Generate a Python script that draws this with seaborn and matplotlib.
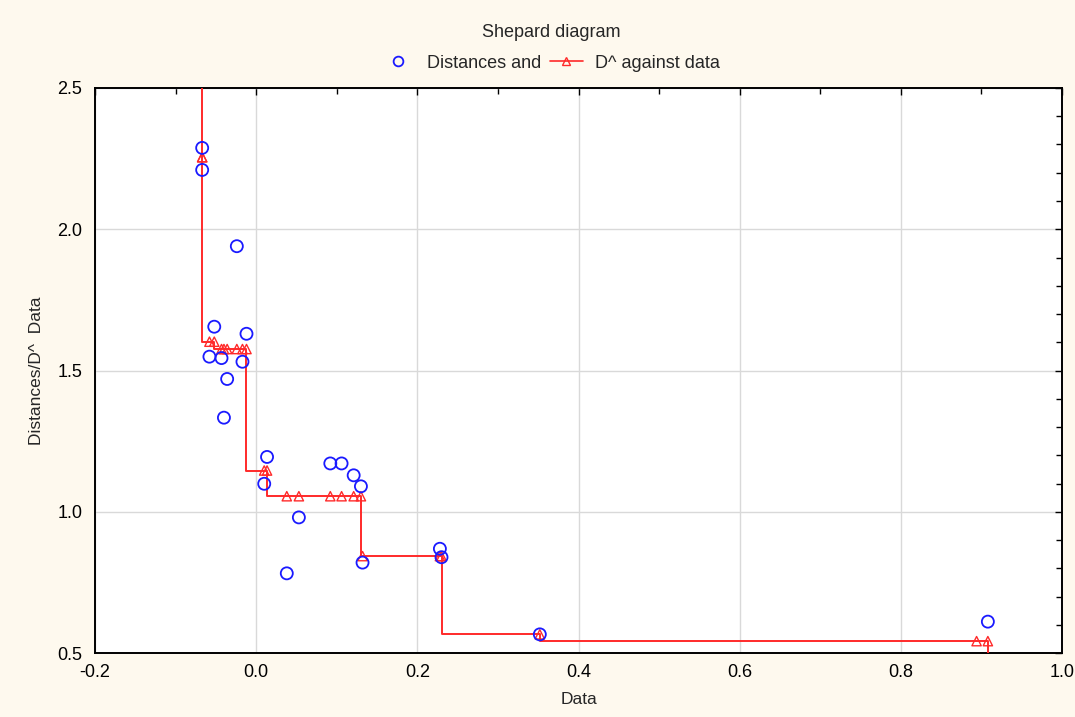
import numpy as np
import pandas as pd
import matplotlib
matplotlib.use("Agg")
import matplotlib.pyplot as plt
from matplotlib.lines import Line2D
from matplotlib.ticker import MultipleLocator
import seaborn as sns

# Shepard diagram values
data_x = [-0.067, -0.067, -0.024, -0.052, -0.012, -0.058, -0.043, -0.017,
          -0.036, -0.040, 0.0135, 0.010, 0.092, 0.106, 0.121, 0.130,
          0.053, 0.038, 0.132, 0.228, 0.230, 0.352, 0.908, 0.894]
distances = [2.288, 2.210, 1.940, 1.655, 1.630, 1.549, 1.544, 1.531,
             1.470, 1.333, 1.194, 1.099, 1.171, 1.171, 1.129, 1.090,
             0.980, 0.782, 0.820, 0.869, 0.839, 0.566, 0.611, 0.473]
d_hat = [2.255, 2.255, 1.576, 1.602, 1.576, 1.602, 1.576, 1.576,
         1.576, 1.576, 1.146, 1.146, 1.055, 1.055, 1.055, 1.055,
         1.055, 1.055, 0.843, 0.843, 0.843, 0.566, 0.542, 0.542]
# step line runs off the chart at both ends
step_start = (-0.067, 2.70)
step_end = (0.908, 0.45)

x_ticks = [-0.2, 0.0, 0.2, 0.4, 0.6, 0.8, 1.0]
y_ticks = [0.5, 1.0, 1.5, 2.0, 2.5]

sns.set_style("white")
plt.rcParams['font.family'] = ['Liberation Sans', 'DejaVu Sans']

df = pd.DataFrame({'x': data_x, 'dist': distances, 'dhat': d_hat})
step = pd.concat([
    pd.DataFrame({'x': [step_start[0]], 'dhat': [step_start[1]]}),
    df[['x', 'dhat']].sort_values('x', kind='stable'),
    pd.DataFrame({'x': [step_end[0]], 'dhat': [step_end[1]]}),
], ignore_index=True)

bg = '#fef9ee'
fig = plt.figure(figsize=(10.75, 7.17), dpi=100, facecolor=bg)
ax = fig.add_axes([95 / 1075, 1 - 653 / 717, (1062 - 95) / 1075, (653 - 88) / 717])
ax.set_facecolor('white')

red = '#ff2a2a'
blue = '#1a1aff'

ax.plot(step['x'], step['dhat'], color=red, lw=1.4, drawstyle='steps-pre', zorder=3)
sns.scatterplot(data=df, x='x', y='dhat', marker='^', s=45, facecolors='none',
                edgecolor=red, linewidth=1.0, ax=ax, zorder=4)
sns.scatterplot(data=df, x='x', y='dist', marker='o', s=75, facecolors='none',
                edgecolor=blue, linewidth=1.3, ax=ax, zorder=5)

ax.set_xlim(-0.2, 1.0)
ax.set_ylim(0.5, 2.5)
ax.set_xticks(x_ticks)
ax.set_yticks(y_ticks)
ax.set_xticklabels([f'{t:.1f}' for t in x_ticks])
ax.set_yticklabels([f'{t:.1f}' for t in y_ticks])
ax.xaxis.set_minor_locator(MultipleLocator(0.1))
ax.yaxis.set_minor_locator(MultipleLocator(0.1))
ax.tick_params(which='both', direction='in', top=True, right=True, colors='black',
               labelsize=13, width=1)
ax.tick_params(axis='x', which='major', length=5, pad=8)
ax.tick_params(axis='y', which='major', length=5, pad=9)
ax.tick_params(which='minor', length=4)
ax.grid(True, which='major', color='#d9d9d9', lw=1)
ax.set_axisbelow(True)
for sp in ax.spines.values():
    sp.set_color('black')
    sp.set_linewidth(1.4)

ax.set_xlabel('Data', fontsize=12.5, labelpad=8)
ax.set_ylabel('Distances/D^  Data', fontsize=12.5, labelpad=10)

handles = [
    Line2D([], [], ls='none', marker='o', markerfacecolor='none',
           markeredgecolor=blue, markersize=7, markeredgewidth=1.3),
    Line2D([], [], color=red, lw=1.2, marker='^', markerfacecolor='none',
           markeredgecolor=red, markersize=6),
]
fig.legend(handles, ['Distances and', 'D^ against data'], loc='center',
           bbox_to_anchor=(551 / 1075, 1 - 48 / 717), ncol=2, frameon=False,
           title='Shepard diagram', fontsize=13, title_fontsize=13,
           handlelength=1.8, handletextpad=0.7, columnspacing=0.5,
           labelspacing=0.75)

fig.savefig('out.png', dpi=100, facecolor=bg)
